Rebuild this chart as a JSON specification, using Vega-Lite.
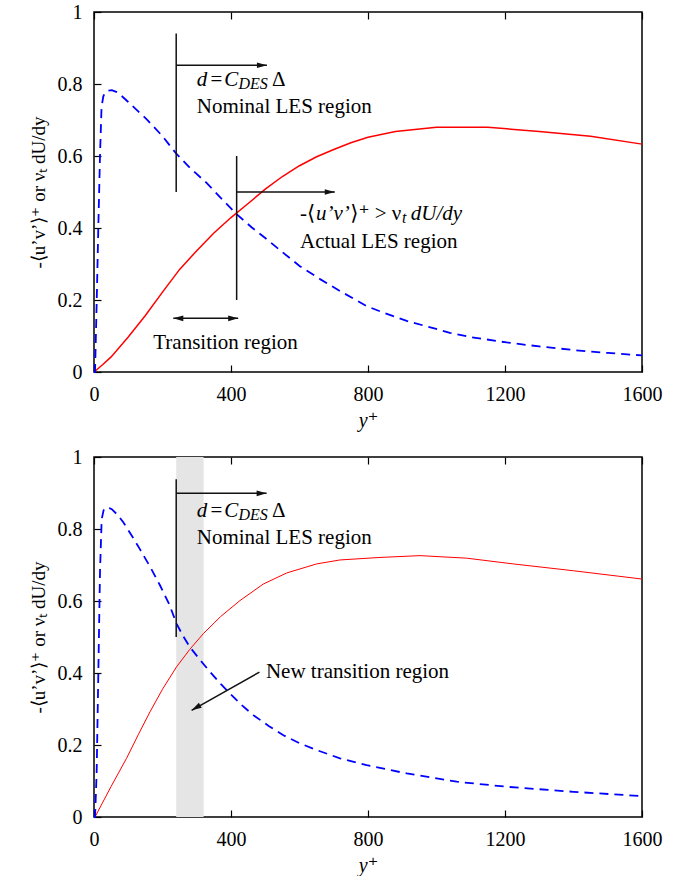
{
  "$schema": "https://vega.github.io/schema/vega-lite/v6.json",
  "padding": {"left": 28, "top": 1, "right": 5, "bottom": 0},
  "bounds": "flush",
  "spacing": 85,
  "config": {
    "font": "'Liberation Serif', 'DejaVu Sans', serif",
    "text": {"font": "'Liberation Serif', 'DejaVu Sans', serif"},
    "view": {"stroke": "black", "strokeWidth": 1.5},
    "axis": {
      "grid": false, "domain": false,
      "tickColor": "black", "tickSize": -7, "tickWidth": 1.2,
      "labelFont": "'Liberation Serif', 'DejaVu Sans', serif", "labelFontSize": 20, "labelColor": "black",
      "labelFlush": false, "labelPadding": 19, "labelOverlap": false,
      "titleFont": "'Liberation Serif', 'DejaVu Sans', serif", "titleFontSize": 20, "titleFontWeight": "normal", "titleColor": "black"
    }
  },
  "datasets": {
    "topCurves": [
      {"series": "resolved", "x": 0, "y": 0},
      {"series": "resolved", "x": 25, "y": 0.02},
      {"series": "resolved", "x": 50, "y": 0.042},
      {"series": "resolved", "x": 100, "y": 0.097},
      {"series": "resolved", "x": 150, "y": 0.157},
      {"series": "resolved", "x": 200, "y": 0.222},
      {"series": "resolved", "x": 250, "y": 0.285},
      {"series": "resolved", "x": 300, "y": 0.337},
      {"series": "resolved", "x": 350, "y": 0.386},
      {"series": "resolved", "x": 400, "y": 0.429},
      {"series": "resolved", "x": 450, "y": 0.468},
      {"series": "resolved", "x": 500, "y": 0.508},
      {"series": "resolved", "x": 550, "y": 0.543},
      {"series": "resolved", "x": 600, "y": 0.573},
      {"series": "resolved", "x": 650, "y": 0.598},
      {"series": "resolved", "x": 700, "y": 0.618},
      {"series": "resolved", "x": 750, "y": 0.637},
      {"series": "resolved", "x": 800, "y": 0.652},
      {"series": "resolved", "x": 880, "y": 0.668},
      {"series": "resolved", "x": 1000, "y": 0.68},
      {"series": "resolved", "x": 1150, "y": 0.68},
      {"series": "resolved", "x": 1300, "y": 0.668},
      {"series": "resolved", "x": 1450, "y": 0.655},
      {"series": "resolved", "x": 1600, "y": 0.633},
      {"series": "modeled", "x": 0, "y": 0},
      {"series": "modeled", "x": 3, "y": 0},
      {"series": "modeled", "x": 5, "y": 0.08},
      {"series": "modeled", "x": 8, "y": 0.2},
      {"series": "modeled", "x": 12.7, "y": 0.406},
      {"series": "modeled", "x": 17.5, "y": 0.6},
      {"series": "modeled", "x": 22, "y": 0.735},
      {"series": "modeled", "x": 27, "y": 0.765},
      {"series": "modeled", "x": 32, "y": 0.776},
      {"series": "modeled", "x": 40, "y": 0.781},
      {"series": "modeled", "x": 52, "y": 0.783},
      {"series": "modeled", "x": 65, "y": 0.778},
      {"series": "modeled", "x": 76, "y": 0.771},
      {"series": "modeled", "x": 100, "y": 0.75},
      {"series": "modeled", "x": 154, "y": 0.702},
      {"series": "modeled", "x": 200, "y": 0.655},
      {"series": "modeled", "x": 238, "y": 0.609},
      {"series": "modeled", "x": 280, "y": 0.567},
      {"series": "modeled", "x": 328, "y": 0.526},
      {"series": "modeled", "x": 370, "y": 0.484},
      {"series": "modeled", "x": 417, "y": 0.438},
      {"series": "modeled", "x": 460, "y": 0.402},
      {"series": "modeled", "x": 504, "y": 0.369},
      {"series": "modeled", "x": 550, "y": 0.333},
      {"series": "modeled", "x": 601, "y": 0.294},
      {"series": "modeled", "x": 660, "y": 0.258},
      {"series": "modeled", "x": 718, "y": 0.225},
      {"series": "modeled", "x": 796, "y": 0.183},
      {"series": "modeled", "x": 850, "y": 0.163},
      {"series": "modeled", "x": 913, "y": 0.142},
      {"series": "modeled", "x": 1039, "y": 0.109},
      {"series": "modeled", "x": 1100, "y": 0.097},
      {"series": "modeled", "x": 1205, "y": 0.082},
      {"series": "modeled", "x": 1300, "y": 0.071},
      {"series": "modeled", "x": 1400, "y": 0.061},
      {"series": "modeled", "x": 1500, "y": 0.053},
      {"series": "modeled", "x": 1600, "y": 0.046}
    ],
    "bottomCurves": [
      {"series": "resolved", "x": 0, "y": 0},
      {"series": "resolved", "x": 3, "y": 0},
      {"series": "resolved", "x": 50, "y": 0.085},
      {"series": "resolved", "x": 95, "y": 0.163},
      {"series": "resolved", "x": 130, "y": 0.23},
      {"series": "resolved", "x": 163.5, "y": 0.292},
      {"series": "resolved", "x": 200, "y": 0.355},
      {"series": "resolved", "x": 241, "y": 0.417},
      {"series": "resolved", "x": 280, "y": 0.466},
      {"series": "resolved", "x": 319, "y": 0.509},
      {"series": "resolved", "x": 370, "y": 0.557},
      {"series": "resolved", "x": 426, "y": 0.601},
      {"series": "resolved", "x": 494, "y": 0.647},
      {"series": "resolved", "x": 563, "y": 0.678},
      {"series": "resolved", "x": 650, "y": 0.703},
      {"series": "resolved", "x": 718, "y": 0.714},
      {"series": "resolved", "x": 835, "y": 0.721},
      {"series": "resolved", "x": 952, "y": 0.726},
      {"series": "resolved", "x": 1088, "y": 0.719},
      {"series": "resolved", "x": 1224, "y": 0.703},
      {"series": "resolved", "x": 1400, "y": 0.684},
      {"series": "resolved", "x": 1600, "y": 0.661},
      {"series": "modeled", "x": 0, "y": 0},
      {"series": "modeled", "x": 3, "y": 0},
      {"series": "modeled", "x": 5, "y": 0.05},
      {"series": "modeled", "x": 7.8, "y": 0.126},
      {"series": "modeled", "x": 12.7, "y": 0.403},
      {"series": "modeled", "x": 17.5, "y": 0.68},
      {"series": "modeled", "x": 22.4, "y": 0.827},
      {"series": "modeled", "x": 28, "y": 0.852},
      {"series": "modeled", "x": 35, "y": 0.86},
      {"series": "modeled", "x": 45, "y": 0.858},
      {"series": "modeled", "x": 52, "y": 0.855},
      {"series": "modeled", "x": 70, "y": 0.838},
      {"series": "modeled", "x": 86, "y": 0.818},
      {"series": "modeled", "x": 110, "y": 0.782},
      {"series": "modeled", "x": 134, "y": 0.744},
      {"series": "modeled", "x": 165, "y": 0.693},
      {"series": "modeled", "x": 193, "y": 0.643},
      {"series": "modeled", "x": 220, "y": 0.59},
      {"series": "modeled", "x": 241, "y": 0.537},
      {"series": "modeled", "x": 260, "y": 0.503},
      {"series": "modeled", "x": 280, "y": 0.472},
      {"series": "modeled", "x": 310, "y": 0.436},
      {"series": "modeled", "x": 339, "y": 0.403},
      {"series": "modeled", "x": 370, "y": 0.37},
      {"series": "modeled", "x": 397, "y": 0.343},
      {"series": "modeled", "x": 430, "y": 0.312},
      {"series": "modeled", "x": 465, "y": 0.283},
      {"series": "modeled", "x": 510, "y": 0.253},
      {"series": "modeled", "x": 553, "y": 0.227},
      {"series": "modeled", "x": 600, "y": 0.205},
      {"series": "modeled", "x": 650, "y": 0.186},
      {"series": "modeled", "x": 718, "y": 0.163},
      {"series": "modeled", "x": 796, "y": 0.144},
      {"series": "modeled", "x": 913, "y": 0.121},
      {"series": "modeled", "x": 1059, "y": 0.098},
      {"series": "modeled", "x": 1205, "y": 0.084},
      {"series": "modeled", "x": 1400, "y": 0.07},
      {"series": "modeled", "x": 1600, "y": 0.058}
    ],
    "topRules": [
      {"x": 240, "x2": 240, "y": 0.5, "y2": 0.94},
      {"x": 240, "x2": 505, "y": 0.852, "y2": 0.852},
      {"x": 416.5, "x2": 416.5, "y": 0.2, "y2": 0.6},
      {"x": 416.5, "x2": 703, "y": 0.5, "y2": 0.5},
      {"x": 231.5, "x2": 421, "y": 0.149, "y2": 0.149}
    ],
    "bottomRules": [
      {"x": 240, "x2": 240, "y": 0.5, "y2": 0.938},
      {"x": 240, "x2": 504, "y": 0.899, "y2": 0.899},
      {"x": 483, "x2": 285, "y": 0.4025, "y2": 0.2964}
    ],
    "topHeadsRight": [
      {"x": 505, "y": 0.852},
      {"x": 703, "y": 0.5},
      {"x": 421, "y": 0.149}
    ],
    "topHeadsLeft": [
      {"x": 231.5, "y": 0.149}
    ],
    "bottomHeadsRight": [
      {"x": 504, "y": 0.899}
    ],
    "bottomHeadsDiag": [
      {"x": 285, "y": 0.2964}
    ],
    "band": [
      {"x": 240, "x2": 320, "y": 0, "y2": 1}
    ],
    "topTextUpright": [
      {"x": 340, "y": 0.794, "t": "="},
      {"x": 520, "y": 0.794, "t": "Δ"},
      {"x": 300, "y": 0.7206, "t": "Nominal LES region"},
      {"x": 601.5, "y": 0.421, "t": "-⟨"},
      {"x": 748, "y": 0.421, "t": "⟩⁺ > ν"},
      {"x": 601.5, "y": 0.3455, "t": "Actual LES region"},
      {"x": 173, "y": 0.063, "t": "Transition region"}
    ],
    "topTextItalic": [
      {"x": 300, "y": 0.794, "t": "d"},
      {"x": 380, "y": 0.794, "t": "C"},
      {"x": 648, "y": 0.421, "t": "u’v’"},
      {"x": 925, "y": 0.421, "t": "dU/dy"}
    ],
    "topTextSub": [
      {"x": 422, "y": 0.786, "t": "DES"},
      {"x": 899, "y": 0.414, "t": "t"}
    ],
    "bottomTextUpright": [
      {"x": 340, "y": 0.832, "t": "="},
      {"x": 520, "y": 0.832, "t": "Δ"},
      {"x": 300, "y": 0.758, "t": "Nominal LES region"},
      {"x": 502, "y": 0.386, "t": "New transition region"}
    ],
    "bottomTextItalic": [
      {"x": 300, "y": 0.832, "t": "d"},
      {"x": 380, "y": 0.832, "t": "C"}
    ],
    "bottomTextSub": [
      {"x": 422, "y": 0.824, "t": "DES"}
    ]
  },
  "vconcat": [
    {
      "width": 548,
      "height": 360,
      "encoding": {
        "y": {"field": "y", "type": "quantitative", "scale": {"domain": [0, 1]},
              "axis": {"values": [0, 0.2, 0.4, 0.6, 0.8, 1], "format": "~g", "title": "-⟨u’v’⟩⁺ or νₜ dU/dy", "titleFont": "Times New Roman", "titleFontSize": 19, "titlePadding": 9}}
      },
      "layer": [
        {
          "data": {"name": "topCurves"},
          "transform": [{"filter": "datum.series == 'resolved'"}],
          "mark": {"type": "line", "color": "#ff0000", "strokeWidth": 1.5},
          "encoding": {
            "x": {"field": "x", "type": "quantitative", "scale": {"domain": [0, 1600]},
                  "axis": {"values": [0, 400, 800, 1200, 1600], "format": "d", "title": "y⁺", "titleFontStyle": "italic", "titlePadding": 6}}
          }
        },
        {
          "data": {"name": "topCurves"},
          "transform": [{"filter": "datum.series == 'modeled'"}],
          "mark": {"type": "line", "color": "#0000ff", "strokeWidth": 1.8, "strokeDash": [9, 6]},
          "encoding": {"x": {"field": "x", "type": "quantitative", "scale": {"domain": [0, 1600]}, "axis": null}}
        },
        {
          "data": {"name": "topRules"},
          "mark": {"type": "rule", "color": "#111111", "strokeWidth": 1.5},
          "encoding": {
            "x": {"field": "x", "type": "quantitative", "scale": {"domain": [0, 1600]},
                  "axis": {"orient": "top", "values": [0, 400, 800, 1200, 1600], "labels": false, "title": null}},
            "x2": {"field": "x2"},
            "y2": {"field": "y2"}
          }
        },
        {
          "data": {"name": "topHeadsRight"},
          "mark": {"type": "point", "shape": "M0,0L0.28,1L-0.28,1Z", "size": 400, "angle": 90, "filled": true, "color": "#111111", "opacity": 1, "strokeWidth": 0},
          "encoding": {"x": {"field": "x", "type": "quantitative", "scale": {"domain": [0, 1600]}, "axis": null}}
        },
        {
          "data": {"name": "topHeadsLeft"},
          "mark": {"type": "point", "shape": "M0,0L0.28,1L-0.28,1Z", "size": 400, "angle": 270, "filled": true, "color": "#111111", "opacity": 1, "strokeWidth": 0},
          "encoding": {"x": {"field": "x", "type": "quantitative", "scale": {"domain": [0, 1600]}, "axis": null}}
        },
        {
          "data": {"name": "topTextUpright"},
          "mark": {"type": "text", "align": "left", "baseline": "alphabetic", "fontSize": 21, "color": "black"},
          "encoding": {"x": {"field": "x", "type": "quantitative", "scale": {"domain": [0, 1600]}, "axis": null}, "text": {"field": "t"}}
        },
        {
          "data": {"name": "topTextItalic"},
          "mark": {"type": "text", "align": "left", "baseline": "alphabetic", "fontSize": 21, "fontStyle": "italic", "color": "black"},
          "encoding": {"x": {"field": "x", "type": "quantitative", "scale": {"domain": [0, 1600]}, "axis": null}, "text": {"field": "t"}}
        },
        {
          "data": {"name": "topTextSub"},
          "mark": {"type": "text", "align": "left", "baseline": "alphabetic", "fontSize": 16, "fontStyle": "italic", "color": "black"},
          "encoding": {"x": {"field": "x", "type": "quantitative", "scale": {"domain": [0, 1600]}, "axis": null}, "text": {"field": "t"}}
        }
      ],
      "resolve": {"axis": {"x": "independent"}}
    },
    {
      "width": 548,
      "height": 360,
      "encoding": {
        "y": {"field": "y", "type": "quantitative", "scale": {"domain": [0, 1]},
              "axis": {"values": [0, 0.2, 0.4, 0.6, 0.8, 1], "format": "~g", "title": "-⟨u’v’⟩⁺ or νₜ dU/dy", "titleFont": "Times New Roman", "titleFontSize": 19, "titlePadding": 9}}
      },
      "layer": [
        {
          "data": {"name": "band"},
          "mark": {"type": "rect", "color": "#e5e5e5"},
          "encoding": {
            "x": {"field": "x", "type": "quantitative", "scale": {"domain": [0, 1600]}, "axis": null},
            "x2": {"field": "x2"},
            "y2": {"field": "y2"}
          }
        },
        {
          "data": {"name": "bottomCurves"},
          "transform": [{"filter": "datum.series == 'resolved'"}],
          "mark": {"type": "line", "color": "#ff0000", "strokeWidth": 1},
          "encoding": {
            "x": {"field": "x", "type": "quantitative", "scale": {"domain": [0, 1600]},
                  "axis": {"values": [0, 400, 800, 1200, 1600], "format": "d", "title": "y⁺", "titleFontStyle": "italic", "titlePadding": 6}}
          }
        },
        {
          "data": {"name": "bottomCurves"},
          "transform": [{"filter": "datum.series == 'modeled'"}],
          "mark": {"type": "line", "color": "#0000ff", "strokeWidth": 1.8, "strokeDash": [9, 6]},
          "encoding": {"x": {"field": "x", "type": "quantitative", "scale": {"domain": [0, 1600]}, "axis": null}}
        },
        {
          "data": {"name": "bottomRules"},
          "mark": {"type": "rule", "color": "#111111", "strokeWidth": 1.5},
          "encoding": {
            "x": {"field": "x", "type": "quantitative", "scale": {"domain": [0, 1600]},
                  "axis": {"orient": "top", "values": [0, 400, 800, 1200, 1600], "labels": false, "title": null}},
            "x2": {"field": "x2"},
            "y2": {"field": "y2"}
          }
        },
        {
          "data": {"name": "bottomHeadsRight"},
          "mark": {"type": "point", "shape": "M0,0L0.28,1L-0.28,1Z", "size": 400, "angle": 90, "filled": true, "color": "#111111", "opacity": 1, "strokeWidth": 0},
          "encoding": {"x": {"field": "x", "type": "quantitative", "scale": {"domain": [0, 1600]}, "axis": null}}
        },
        {
          "data": {"name": "bottomHeadsDiag"},
          "mark": {"type": "point", "shape": "M0,0L0.28,1L-0.28,1Z", "size": 400, "angle": 240, "filled": true, "color": "#111111", "opacity": 1, "strokeWidth": 0},
          "encoding": {"x": {"field": "x", "type": "quantitative", "scale": {"domain": [0, 1600]}, "axis": null}}
        },
        {
          "data": {"name": "bottomTextUpright"},
          "mark": {"type": "text", "align": "left", "baseline": "alphabetic", "fontSize": 21, "color": "black"},
          "encoding": {"x": {"field": "x", "type": "quantitative", "scale": {"domain": [0, 1600]}, "axis": null}, "text": {"field": "t"}}
        },
        {
          "data": {"name": "bottomTextItalic"},
          "mark": {"type": "text", "align": "left", "baseline": "alphabetic", "fontSize": 21, "fontStyle": "italic", "color": "black"},
          "encoding": {"x": {"field": "x", "type": "quantitative", "scale": {"domain": [0, 1600]}, "axis": null}, "text": {"field": "t"}}
        },
        {
          "data": {"name": "bottomTextSub"},
          "mark": {"type": "text", "align": "left", "baseline": "alphabetic", "fontSize": 16, "fontStyle": "italic", "color": "black"},
          "encoding": {"x": {"field": "x", "type": "quantitative", "scale": {"domain": [0, 1600]}, "axis": null}, "text": {"field": "t"}}
        }
      ],
      "resolve": {"axis": {"x": "independent"}}
    }
  ]
}
